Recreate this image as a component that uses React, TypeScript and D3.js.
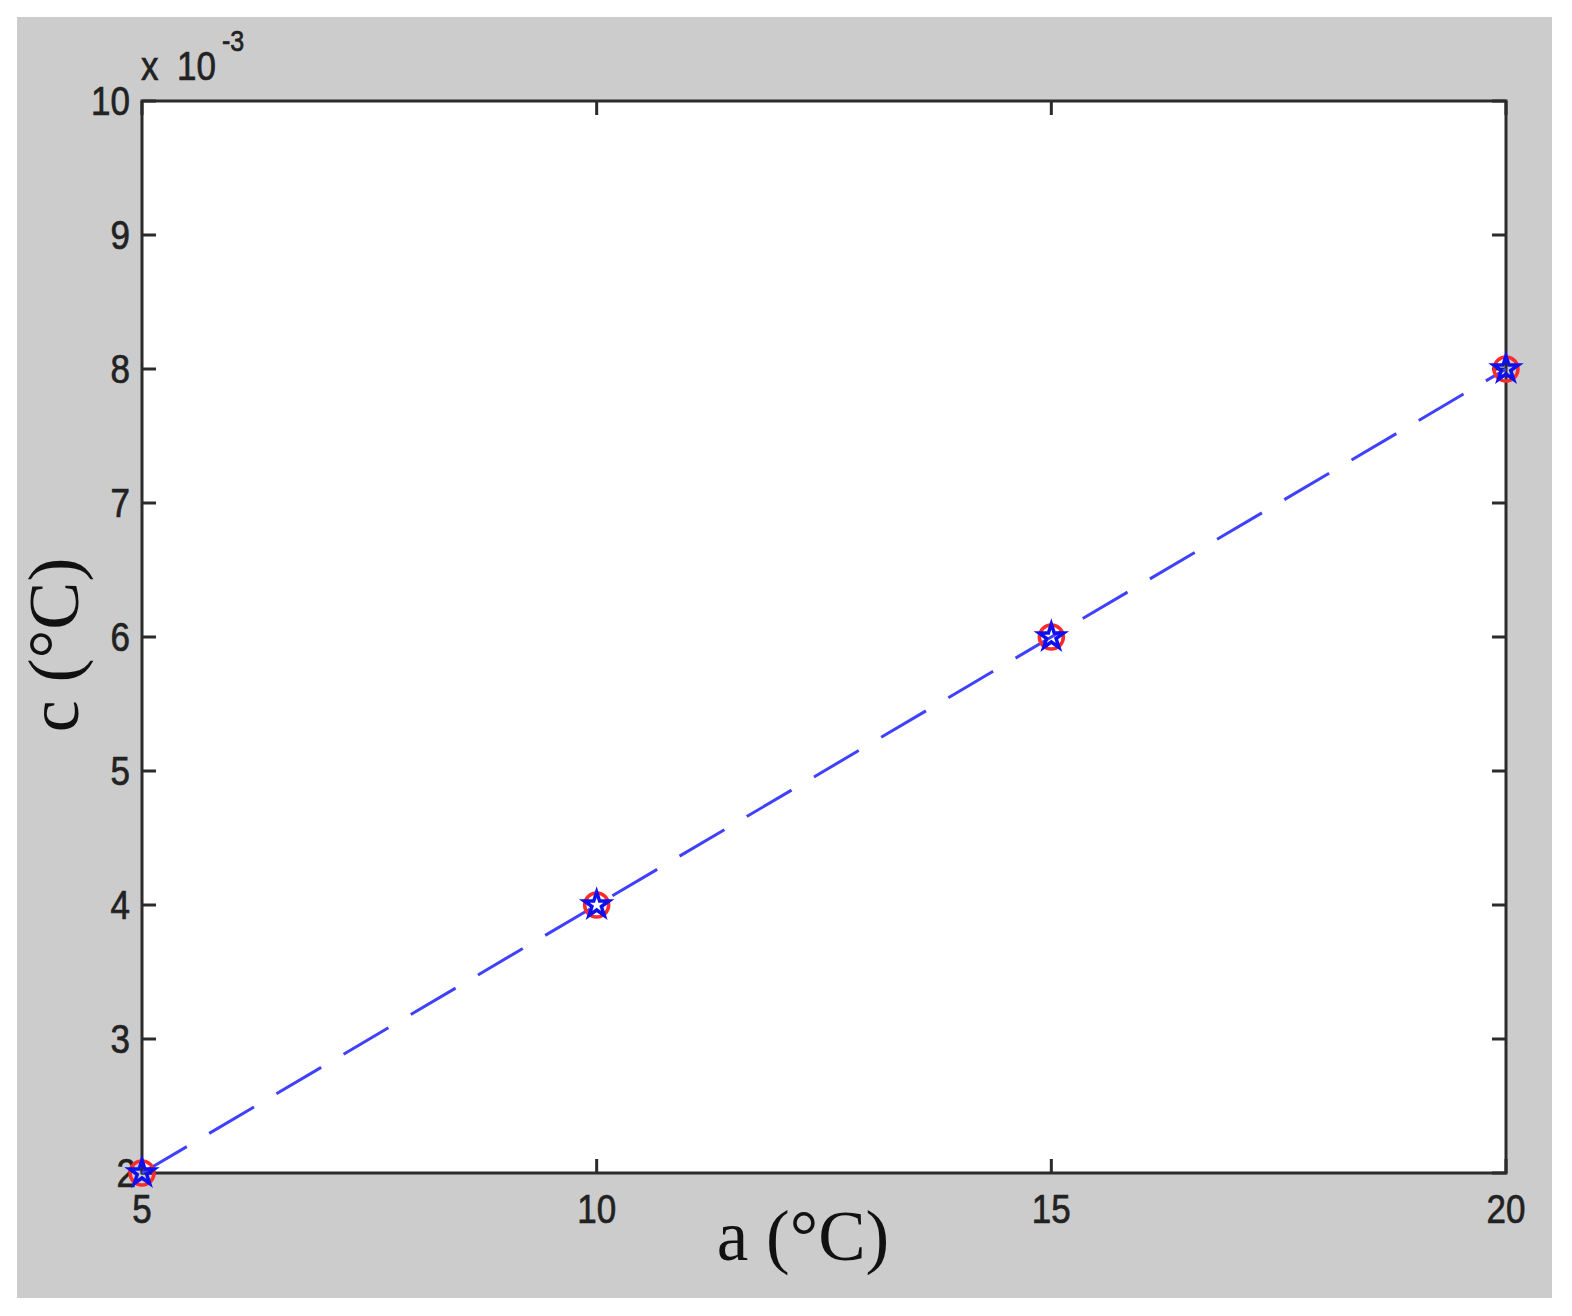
import React from "react";
import * as d3 from "d3";

const xValues = [5, 10, 15, 20];
const yValues = [0.002, 0.004, 0.006, 0.008];
const xTicks = [5, 10, 15, 20];
const yTicks = [2, 3, 4, 5, 6, 7, 8, 9, 10];
const xLabel = "a (°C)";
const yLabel = "c (°C)";

export default function App() {
  const W = 1572, H = 1316;
  const left = 142, right = 1506, top = 101, bottom = 1173;
  const x = d3.scaleLinear().domain([5, 20]).range([left, right]);
  const y = d3.scaleLinear().domain([0.002, 0.01]).range([bottom, top]);
  const line = d3.line<number>().x((_, i) => x(xValues[i])).y((d) => y(d));
  const star = d3.symbol().type(d3.symbolStar).size(190)();
  const tick = 14;
  const axisColor = "#2b2b2b";
  const tickFont = "Arial, 'Liberation Sans', sans-serif";
  const label = (tx: number, ty: number, anchor: string, size: number, s: string | number) => (
    <text transform={`translate(${tx},${ty}) scale(1,1.15)`} textAnchor={anchor} fontFamily={tickFont} fontSize={size} fill="#222" stroke="#222" strokeWidth={0.6}>{s}</text>
  );
  return (
    <svg width={W} height={H} style={{ position: "absolute", left: 0, top: 0 }}>
      <rect x={0} y={0} width={W} height={H} fill="#ffffff" />
      <rect x={17} y={17} width={1535} height={1281} fill="#cccccc" />
      <rect x={left} y={top} width={right - left} height={bottom - top} fill="#ffffff" />
      {xTicks.map((t) => (
        <g key={"xt" + t}>
          <line x1={x(t)} x2={x(t)} y1={bottom} y2={bottom - tick} stroke={axisColor} strokeWidth={3} />
          <line x1={x(t)} x2={x(t)} y1={top} y2={top + tick} stroke={axisColor} strokeWidth={3} />
          {label(x(t), 1223, "middle", 35, t)}
        </g>
      ))}
      {yTicks.map((t) => (
        <g key={"yt" + t}>
          <line x1={left} x2={left + tick} y1={y(t / 1000)} y2={y(t / 1000)} stroke={axisColor} strokeWidth={3} />
          <line x1={right} x2={right - tick} y1={y(t / 1000)} y2={y(t / 1000)} stroke={axisColor} strokeWidth={3} />
          {label(t === 2 ? 136 : 130, y(t / 1000) + 14, "end", 35, t)}
        </g>
      ))}
      <rect x={left} y={top} width={right - left} height={bottom - top} fill="none" stroke={axisColor} strokeWidth={3} />
      {label(141, 80, "start", 35, "x")}
      {label(177, 80, "start", 35, "10")}
      {label(222, 51, "start", 25, "-3")}
      <path d={line(yValues) || ""} fill="none" stroke="#4040ff" strokeWidth={3} strokeDasharray="52,26" />
      {yValues.map((v, i) => (
        <g key={"m" + i} transform={`translate(${x(xValues[i])},${y(v)})`}>
          <circle r={12} fill="none" stroke="#ff2a2a" strokeWidth={3.5} />
          <path d={star || ""} fill="none" stroke="#1010ee" strokeWidth={3.5} />
        </g>
      ))}
      <text x={803} y={1260} textAnchor="middle" fontFamily="'Liberation Serif', 'Times New Roman', serif" fontSize={71} fill="#111">{xLabel}</text>
      <text transform="translate(78,645) rotate(-90)" textAnchor="middle" fontFamily="'Liberation Serif', 'Times New Roman', serif" fontSize={72} fill="#111">{yLabel}</text>
    </svg>
  );
}
